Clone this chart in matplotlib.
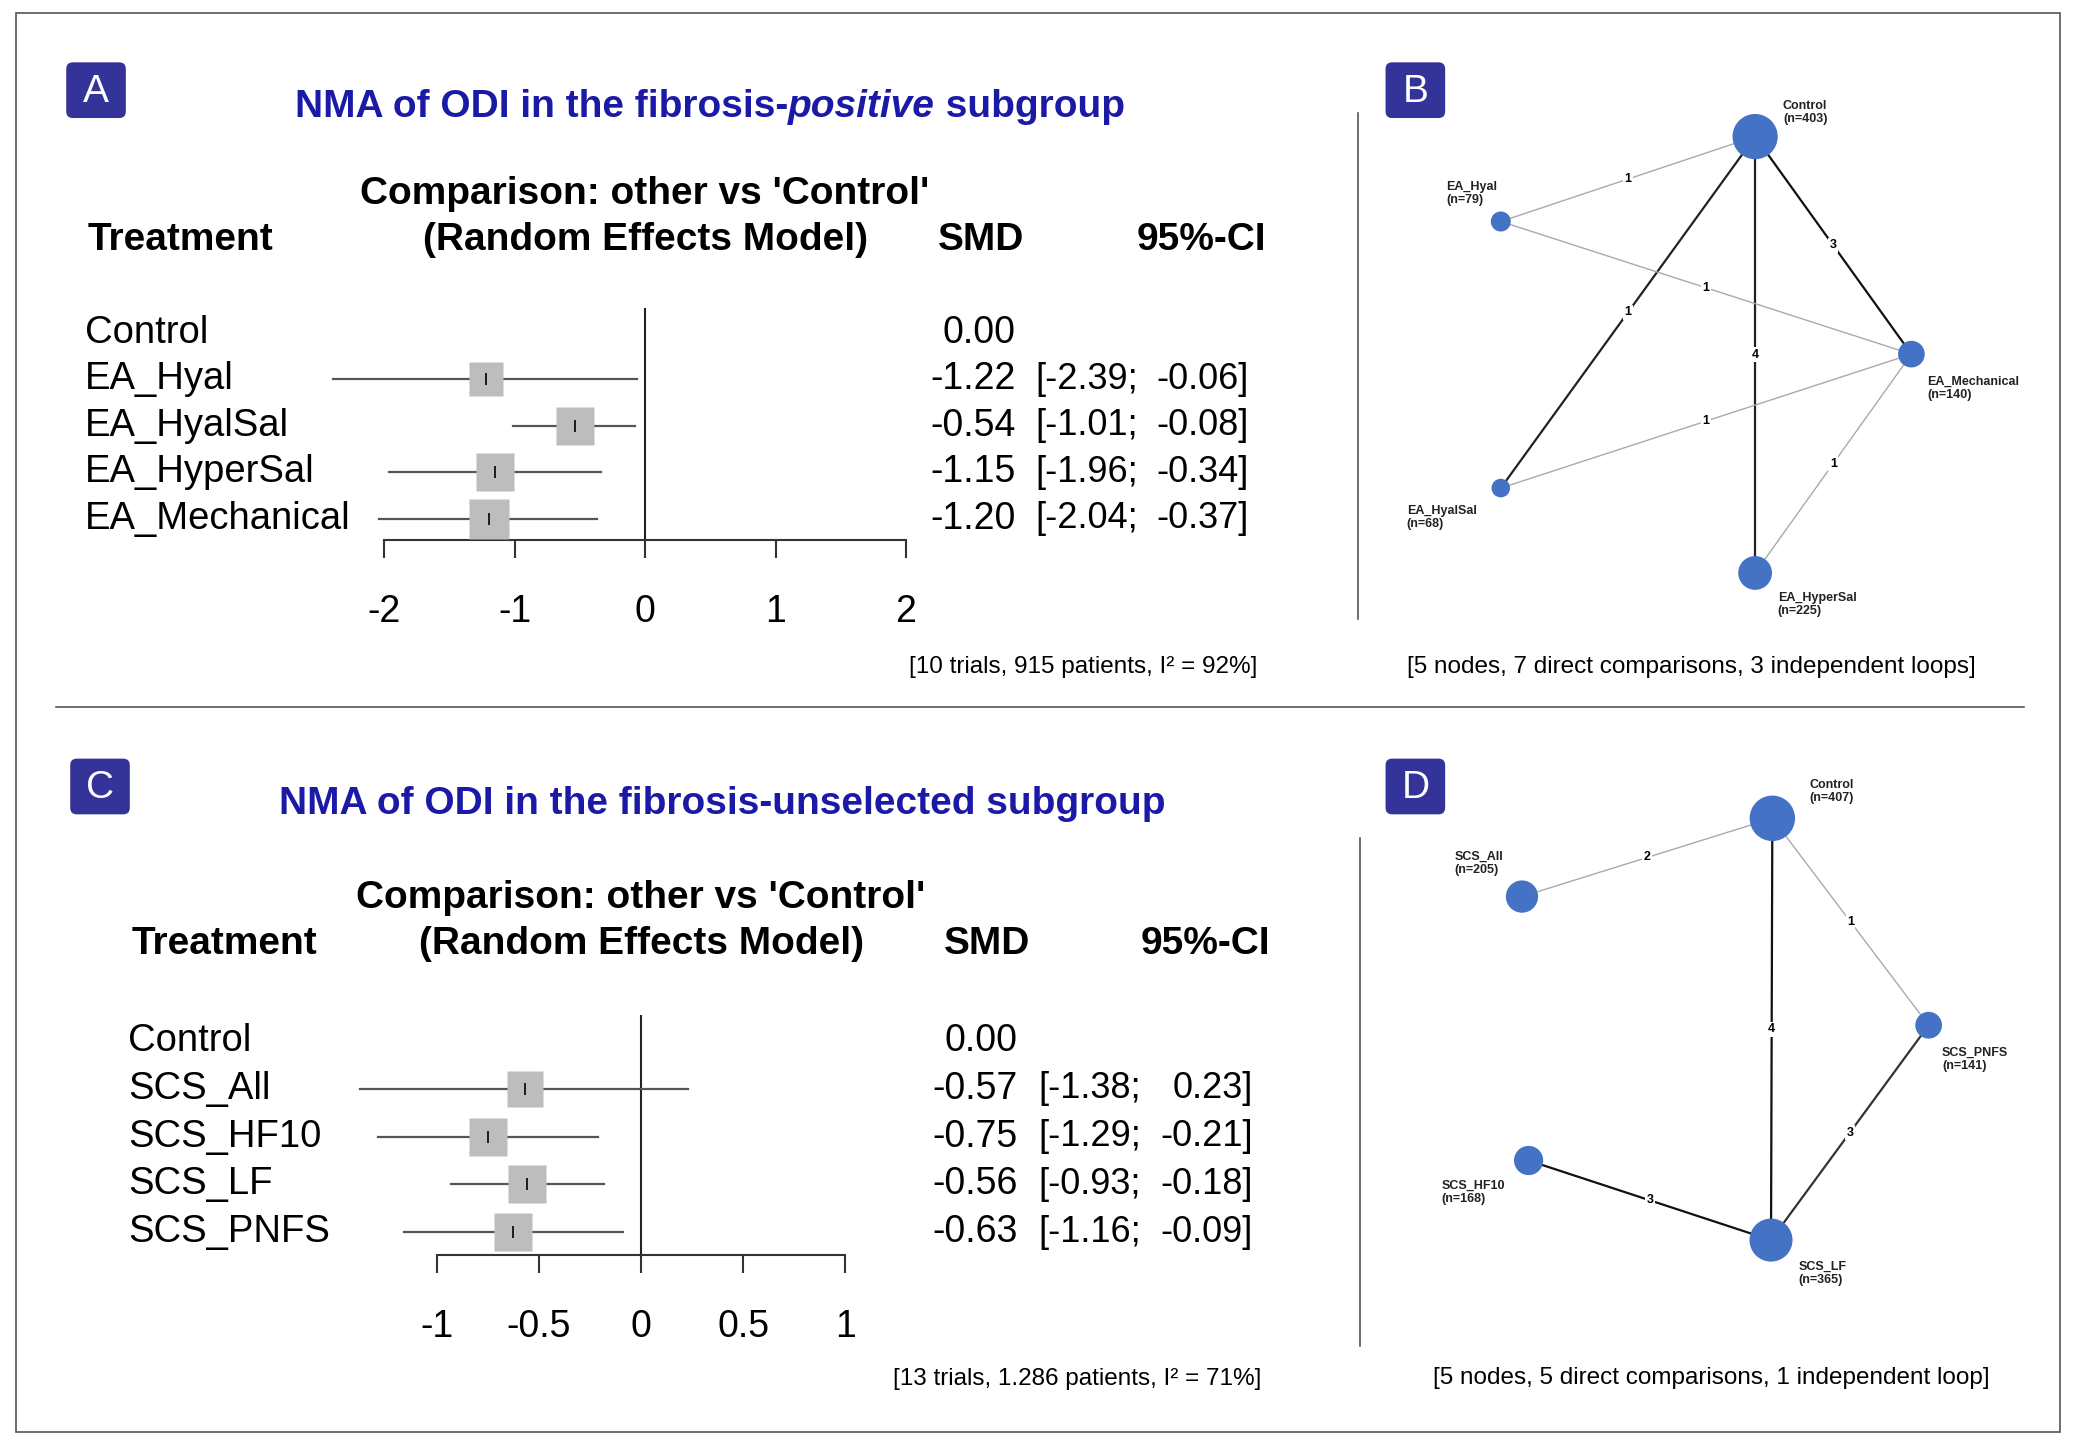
import matplotlib.pyplot as plt
from matplotlib.patches import Rectangle, FancyBboxPatch, Circle

plt.rcParams['font.family'] = ['Liberation Sans', 'DejaVu Sans']

W, H = 1568, 1088  # layout grid (px of reference view)

# ---- data: panel A
trtA = ['Control', 'EA_Hyal', 'EA_HyalSal', 'EA_HyperSal', 'EA_Mechanical']
smdA = [0.00, -1.22, -0.54, -1.15, -1.20]
loA = [None, -2.39, -1.01, -1.96, -2.04]
hiA = [None, -0.06, -0.08, -0.34, -0.37]
wA = [0, 25, 28, 27, 29]
# ---- data: panel C
trtC = ['Control', 'SCS_All', 'SCS_HF10', 'SCS_LF', 'SCS_PNFS']
smdC = [0.00, -0.57, -0.75, -0.56, -0.63]
loC = [None, -1.38, -1.29, -0.93, -1.16]
hiC = [None, 0.23, -0.21, -0.18, -0.09]
wC = [0, 26, 28, 28, 27]

# ---- networks
nodesB = ['Control', 'EA_Hyal', 'EA_HyalSal', 'EA_HyperSal', 'EA_Mechanical']
nB = [403, 79, 68, 225, 140]
edgesB = [('Control', 'EA_Hyal', 1), ('Control', 'EA_HyalSal', 1), ('Control', 'EA_HyperSal', 4),
          ('Control', 'EA_Mechanical', 3), ('EA_Hyal', 'EA_Mechanical', 1),
          ('EA_HyalSal', 'EA_Mechanical', 1), ('EA_HyperSal', 'EA_Mechanical', 1)]
nodesD = ['Control', 'SCS_All', 'SCS_PNFS', 'SCS_HF10', 'SCS_LF']
nD = [407, 205, 141, 168, 365]
edgesD = [('Control', 'SCS_All', 2), ('Control', 'SCS_PNFS', 1), ('Control', 'SCS_LF', 4),
          ('SCS_PNFS', 'SCS_LF', 3), ('SCS_HF10', 'SCS_LF', 3)]

# layout (positions / styles)
posB = {'Control': (1325, 103), 'EA_Hyal': (1133, 167), 'EA_HyalSal': (1133, 368),
        'EA_HyperSal': (1325, 432), 'EA_Mechanical': (1443, 267)}
lblB = {'Control': (1346, 85), 'EA_Hyal': (1092, 146), 'EA_HyalSal': (1062, 390),
        'EA_HyperSal': (1342, 456), 'EA_Mechanical': (1455, 293)}
colB = ['#aaaaaa', '#222222', '#222222', '#111111', '#aaaaaa', '#aaaaaa', '#aaaaaa']
posD = {'Control': (1338, 617), 'SCS_All': (1149, 676), 'SCS_PNFS': (1456, 773),
        'SCS_HF10': (1154, 875), 'SCS_LF': (1337, 935)}
lblD = {'Control': (1366, 597), 'SCS_All': (1098, 651), 'SCS_PNFS': (1466, 799),
        'SCS_HF10': (1088, 899), 'SCS_LF': (1358, 960)}
colD = ['#aaaaaa', '#aaaaaa', '#111111', '#333333', '#111111']

fig = plt.figure(figsize=(20.77, 14.43), dpi=100)
bg = fig.add_axes([0, 0, 1, 1])
bg.set_xlim(0, W)
bg.set_ylim(H, 0)
bg.axis('off')

def box(x0, y0, x1, y1):
    return [x0 / W, 1 - y1 / H, (x1 - x0) / W, (y1 - y0) / H]

# frame and dividers
bg.add_patch(Rectangle((12, 10), 1543, 1070, fill=False, ec='#555555', lw=1.2))
bg.plot([42, 1528], [533, 533], color='#555555', lw=1.2)
bg.plot([1025, 1025], [85, 467], color='#555555', lw=1.2)
bg.plot([1027, 1027], [632, 1015], color='#555555', lw=1.2)

for lab, x, y in [('A', 50, 47), ('B', 1046, 47), ('C', 53, 572), ('D', 1046, 572)]:
    bg.add_patch(FancyBboxPatch((x + 3, y + 3), 39, 36, boxstyle='round,pad=3,rounding_size=5',
                                fc='#33339a', ec='none'))
    bg.text(x + 22.5, y + 22, lab, color='white', fontsize=28, ha='center', va='center')

blue = '#1a1aa6'
fig.canvas.draw()
r = fig.canvas.get_renderer()

def title_parts(parts, cx, cy):
    ts = []
    for s, st in parts:
        ts.append(bg.text(0, cy, s, fontsize=28, weight='bold', style=st, color=blue, va='center'))
    widths = [t.get_window_extent(r).width * W / fig.bbox.width for t in ts]
    x = cx - sum(widths) / 2
    for t, w in zip(ts, widths):
        t.set_x(x)
        x += w

title_parts([('NMA of ODI in the fibrosis-', 'normal'), ('positive', 'italic'), (' subgroup', 'normal')], 536, 81)
title_parts([('NMA of ODI in the fibrosis-unselected subgroup', 'normal')], 545, 606)

def forest(trt, smd, lo, hi, wt, x0, x1, xlim, ticks, ticklabels, ytop, yrow0, dy, yaxis,
           xname, yhead, xsmd, xnum, xci, xend, foot, fx, fy):
    n = len(trt)
    ax = fig.add_axes(box(x0, ytop, x1, yaxis))
    top = (yrow0 - ytop) / dy
    bot = (yaxis - yrow0) / dy - (n - 1)
    ax.set_ylim(n - 1 + bot, -top)
    ax.set_xlim(*xlim)
    ax.patch.set_alpha(0)
    for s in ['top', 'left', 'right']:
        ax.spines[s].set_visible(False)
    ax.spines['bottom'].set_color('#333333')
    ax.spines['bottom'].set_linewidth(1.5)
    ax.set_yticks([])
    ax.set_xticks(ticks)
    ax.set_xticklabels(ticklabels)
    ax.tick_params(axis='x', length=13, width=1.5, color='#333333', labelsize=27, pad=26)
    ax.axvline(0, color='#222222', lw=1.5)
    for i in range(1, n):
        ax.plot([lo[i], hi[i]], [i, i], color='#555555', lw=1.6, zorder=2, clip_on=False)
        ax.plot(smd[i], i, marker='s', ms=wt[i], color='#bdbdbd', mec='none', zorder=3)
        ax.plot(smd[i], i, marker='|', ms=8, color='black', mew=1.2, zorder=4)
    # text columns
    for i in range(n):
        y = yrow0 + i * dy
        bg.text(xname, y, trt[i], fontsize=27.5, va='center')
        bg.text(xnum, y, f'{smd[i]:.2f}', fontsize=27, va='center', ha='right')
        if lo[i] is not None:
            bg.text(xci, y, f'[{lo[i]:.2f};', fontsize=26, va='center')
            bg.text(xend, y, f'{hi[i]:.2f}]', fontsize=26, va='center', ha='right')
    bg.text(xname + 2, yhead, 'Treatment', fontsize=28, weight='bold', va='center')
    bg.text((x0 + x1) / 2, yhead - 35, "Comparison: other vs 'Control'", fontsize=28,
            weight='bold', va='center', ha='center')
    bg.text((x0 + x1) / 2, yhead, '(Random Effects Model)', fontsize=28,
            weight='bold', va='center', ha='center')
    bg.text(xsmd, yhead, 'SMD', fontsize=28, weight='bold', va='center', ha='center')
    bg.text(xend - 36, yhead, '95%-CI', fontsize=28, weight='bold', va='center', ha='center')
    bg.text(fx, fy, foot, fontsize=17.5, va='center', ha='center')

forest(trtA, smdA, loA, hiA, wA, 290, 684, (-2, 2), [-2, -1, 0, 1, 2], ['-2', '-1', '0', '1', '2'],
       232, 251, 35, 407, 64, 181, 741, 767, 782, 943,
       '[10 trials, 915 patients, I² = 92%]', 818, 503)
forest(trtC, smdC, loC, hiC, wC, 330, 638, (-1, 1), [-1, -0.5, 0, 0.5, 1], ['-1', '-0.5', '0', '0.5', '1'],
       765, 785, 36, 946, 97, 712, 745, 768, 784, 946,
       '[13 trials, 1.286 patients, I² = 71%]', 813, 1040)

def network(nodes, ns, edges, cols, pos, lbl, foot, fx, fy):
    for (a, b, k), c in zip(edges, cols):
        (xa, ya), (xb, yb) = pos[a], pos[b]
        lw = 1.0 if c == '#aaaaaa' else 1.6
        bg.plot([xa, xb], [ya, yb], color=c, lw=lw, zorder=2)
        bg.text((xa + xb) / 2, (ya + yb) / 2, str(k), fontsize=9, weight='bold',
                ha='center', va='center', zorder=3,
                bbox=dict(fc='white', ec='none', pad=1))
    for nd, n in zip(nodes, ns):
        x, y = pos[nd]
        bg.add_patch(Circle((x, y), 0.85 * n ** 0.5, fc='#4472c4', ec='none', zorder=4))
        lx, ly = lbl[nd]
        bg.text(lx, ly, f'{nd}\n(n={n})', fontsize=9, weight='bold', ha='left', va='center',
                linespacing=1.1, color='#222222')
    bg.text(fx, fy, foot, fontsize=17.5, ha='center', va='center')

network(nodesB, nB, edgesB, colB, posB, lblB,
        '[5 nodes, 7 direct comparisons, 3 independent loops]', 1277, 503)
network(nodesD, nD, edgesD, colD, posD, lblD,
        '[5 nodes, 5 direct comparisons, 1 independent loop]', 1292, 1039)

fig.savefig('out.png', dpi=100)
